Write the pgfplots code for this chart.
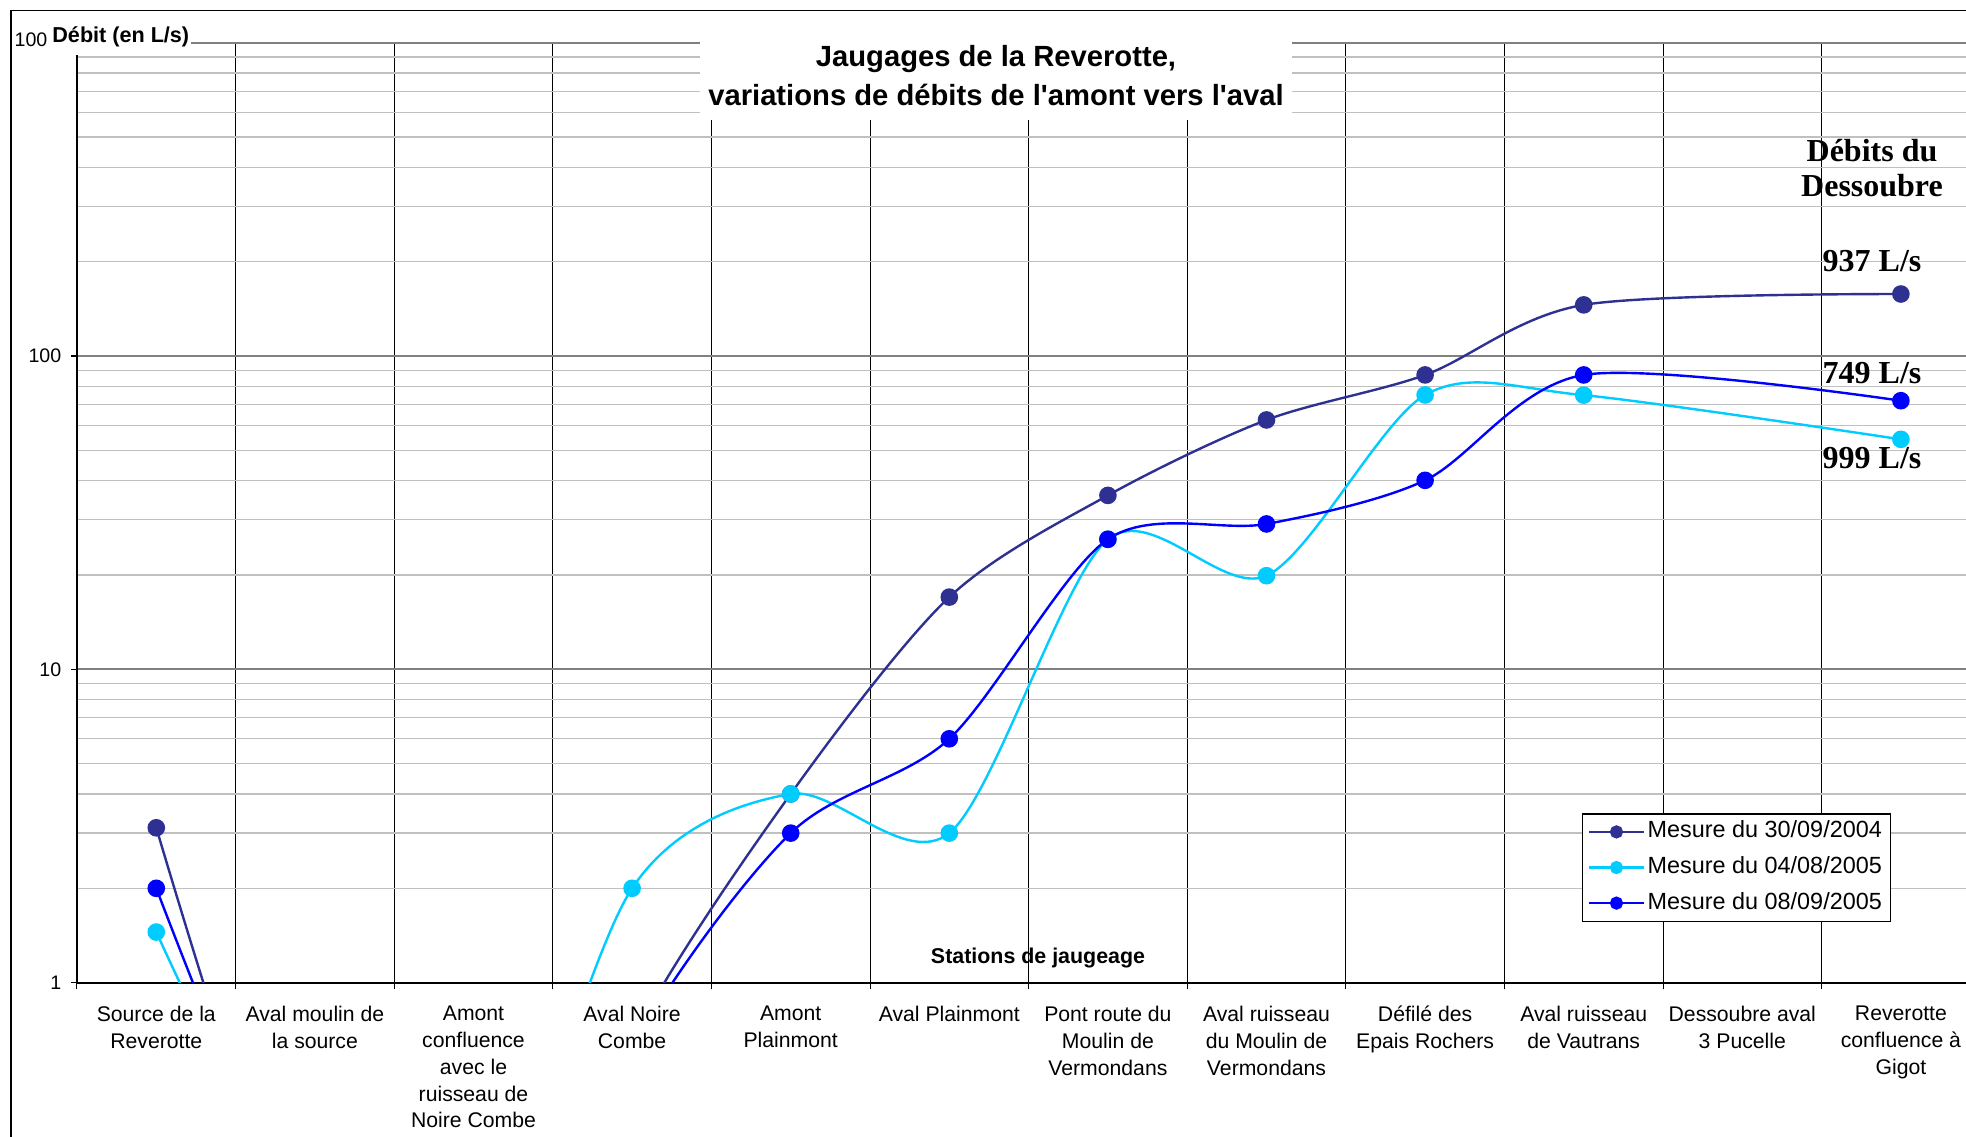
\documentclass[border=0pt]{standalone}
\usepackage{pgfplots}
\pgfplotsset{compat=1.18}
\usepackage{fontspec}
\setmainfont{Liberation Sans}
\newfontfamily\timesfont{Liberation Serif}
\definecolor{navyS}{HTML}{2E3192}
\definecolor{cyanS}{HTML}{00CCFF}
\definecolor{blueS}{HTML}{0000FF}
\definecolor{minorgray}{HTML}{C0C0C0}
\definecolor{majorgray}{HTML}{808080}
\begin{document}
\begin{tikzpicture}
\fill[white] (-38.5pt,-76.7pt) rectangle (944.5pt,491.3pt);
\begin{axis}[
  name=ax, at={(0pt,0pt)}, anchor=south west,
  scale only axis, width=951.6pt, height=469.95pt,
  xmin=-0.5, xmax=11.5, ymode=log, ymin=1, ymax=1000,
  axis lines*=left,
  axis line style={black, line width=0.9pt},
  tick align=outside,
  major tick length=3pt, minor tick length=3.4pt,
  xtick={0,1,2,3,4,5,6,7,8,9,10,11},
  xticklabels={{Source de la\\Reverotte},{Aval moulin de\\la source},{Amont\\confluence\\avec le\\ruisseau de\\Noire Combe},{Aval Noire\\Combe},{Amont\\Plainmont},{Aval Plainmont},{Pont route du\\Moulin de\\Vermondans},{Aval ruisseau\\du Moulin de\\Vermondans},{Défilé des\\Epais Rochers},{Aval ruisseau\\de Vautrans},{Dessoubre aval\\3 Pucelle},{Reverotte\\confluence à\\Gigot}},
  minor xtick={-0.5,0.5,1.5,2.5,3.5,4.5,5.5,6.5,7.5,8.5,9.5,10.5,11.5},
  ytick={1,10,100,1000},
  yticklabels={1,10,100,{}},
  minor ytick={2,3,4,5,6,7,8,9,20,30,40,50,60,70,80,90,200,300,400,500,600,700,800,900},
  ymajorgrids, yminorgrids, xminorgrids,
  major y grid style={majorgray, line width=0.85pt},
  minor y grid style={minorgray, line width=0.65pt},
  minor x grid style={black, line width=0.5pt},
  major x tick style={draw=none},
  minor y tick style={draw=none},
  minor x tick style={black, line width=0.5pt},
  major y tick style={black, line width=0.6pt},
  xticklabel style={font=\fontsize{10.6}{13.4}\selectfont, align=center, anchor=north, inner sep=0pt, yshift=-8.6pt},
  yticklabel style={font=\fontsize{9.8}{12}\selectfont, anchor=east, inner sep=0pt, xshift=-4.65pt},
  /pgf/number format/assume math mode=true,
  legend style={at={(0.7906,0.1801)}, anchor=north west, draw=black, line width=0.6pt, fill=white,
    font=\fontsize{11.7}{14}\selectfont, inner xsep=3pt, inner ysep=2pt, row sep=3.8pt,
    nodes={inner sep=1.5pt, text height=8.5pt, text depth=2.5pt, anchor=west}},
  legend cell align=left,
  legend image code/.code={\draw[mark repeat=2,mark phase=2,#1,mark size=2.7pt] plot coordinates {(0pt,0pt) (13.5pt,0pt) (27pt,0pt)};},
]
\addplot[navyS, line width=1.2pt, smooth, mark=*, mark size=3.8pt, mark options={fill=navyS, draw=navyS}]
  coordinates {(0,3.12) (1,0.1) (2,0.05) (3,0.66) (4,4.0) (5,17.0) (6,35.9) (7,62.5) (8,87.0) (9,145.6) (11,157.7)};
\addlegendentry{Mesure du 30/09/2004}
\addplot[cyanS, line width=1.2pt, smooth, mark=*, mark size=3.8pt, mark options={fill=cyanS, draw=cyanS}]
  coordinates {(0,1.45) (1,0.16) (2,0.12) (3,2.0) (4,4.0) (5,3.0) (6,26.0) (7,19.9) (8,75.1) (9,75.0) (11,54.2)};
\addlegendentry{Mesure du 04/08/2005}
\addplot[blueS, line width=1.2pt, smooth, mark=*, mark size=3.8pt, mark options={fill=blueS, draw=blueS}]
  coordinates {(0,2.0) (1,0.13) (2,0.05) (3,0.62) (4,3.0) (5,6.0) (6,26.0) (7,29.1) (8,40.1) (9,87.0) (11,72.0)};
\addlegendentry{Mesure du 08/09/2005}
\end{axis}
\begin{scope}[shift={(ax.south west)}]
  % title
  \fill[white] (311.5pt,431.3pt) rectangle (607.5pt,477.3pt);
  \node[font=\bfseries\fontsize{14.6}{19.5}\selectfont, anchor=base, inner sep=0pt] at (459.5pt,457.8pt) {Jaugages de la Reverotte,};
  \node[font=\bfseries\fontsize{14.6}{19.5}\selectfont, anchor=base, inner sep=0pt] at (459.5pt,438.3pt) {variations de débits de l\textquotesingle amont vers l\textquotesingle aval};
  % y axis title
  \fill[white] (-13.6pt,463.8pt) rectangle (57pt,481.3pt);
  \node[font=\bfseries\fontsize{10.8}{12}\selectfont, anchor=base west, inner sep=0pt] at (-12.5pt,469.95pt) {Débit (en L/s)};
  % top tick label, as it shows in the original (last digit hidden by the axis title)
  \node[font=\fontsize{9.8}{12}\selectfont, anchor=east, inner sep=0pt] at (-14.6pt,471.3pt) {100};
  % frame
  \draw[black, line width=0.6pt] (-33pt,-100pt) -- (-33pt,486pt) -- (1000pt,486pt);
  % x axis title
  \node[font=\bfseries\fontsize{10.7}{12}\selectfont, anchor=base, inner sep=0pt] at (480.5pt,9.5pt) {Stations de jaugeage};
  % right annotations
  \node[font=\timesfont\bfseries\fontsize{16}{18}\selectfont, anchor=base, inner sep=0pt] at (897.5pt,410.45pt) {Débits du};
  \node[font=\timesfont\bfseries\fontsize{16}{18}\selectfont, anchor=base, inner sep=0pt] at (897.5pt,392.8pt) {Dessoubre};
  \node[font=\timesfont\bfseries\fontsize{16}{18}\selectfont, anchor=base, inner sep=0pt] at (897.5pt,355.45pt) {937 L/s};
  \node[font=\timesfont\bfseries\fontsize{16}{18}\selectfont, anchor=base, inner sep=0pt] at (897.5pt,299.65pt) {749 L/s};
  \node[font=\timesfont\bfseries\fontsize{16}{18}\selectfont, anchor=base, inner sep=0pt] at (897.5pt,256.8pt) {999 L/s};
  \pgfresetboundingbox
  \useasboundingbox (-38.5pt,-76.7pt) rectangle (944.5pt,491.3pt);
\end{scope}
\end{tikzpicture}
\end{document}
